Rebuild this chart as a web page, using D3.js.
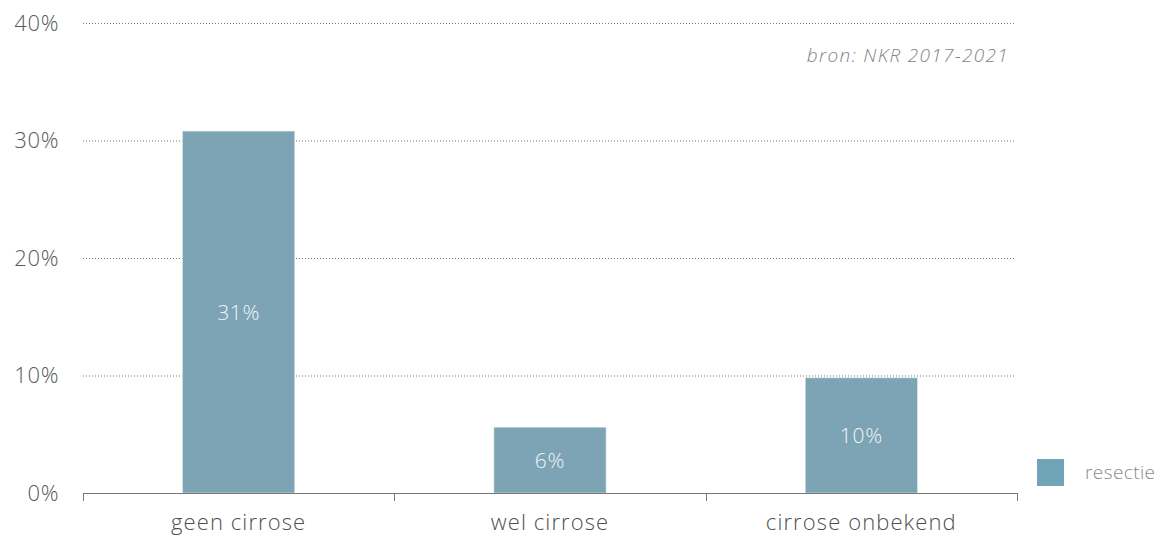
<!DOCTYPE html>
<html>
<head>
<meta charset="utf-8">
<script src="https://cdn.jsdelivr.net/npm/d3@7"></script>
<style>
  html, body { margin: 0; padding: 0; background: #fff; }
  svg { display: block; font-family: "Open Sans", "Noto Sans", sans-serif; }
</style>
</head>
<body>
<svg id="chart" width="1160" height="537"></svg>
<script>
// Percentage of patients with a resection, by cirrhosis status
const categories = ["geen cirrose", "wel cirrose", "cirrose onbekend"];
const resectie = [30.8, 5.6, 9.8];
const barLabels = ["31%", "6%", "10%"];
const yTicks = [0, 10, 20, 30, 40];
const seriesName = "resectie";
const sourceNote = "bron: NKR 2017-2021";

const svg = d3.select("#chart");
const plotLeft = 83, plotRight = 1017, plotTop = 23, plotBottom = 493;

const x = d3.scaleBand().domain(categories).range([plotLeft, plotRight]).paddingInner(0).paddingOuter(0);
const y = d3.scaleLinear().domain([0, 40]).range([plotBottom, plotTop]);
const barW = x.bandwidth() * 0.36;

// dotted gridlines
svg.append("g")
  .selectAll("line")
  .data(yTicks.filter(d => d > 0))
  .join("line")
  .attr("x1", plotLeft).attr("x2", plotRight - 3)
  .attr("y1", d => y(d) + 0.5).attr("y2", d => y(d) + 0.5)
  .attr("stroke", "#777")
  .attr("stroke-width", 1)
  .attr("stroke-dasharray", "1,2");

// y tick labels
svg.append("g")
  .selectAll("text")
  .data(yTicks)
  .join("text")
  .attr("x", 59)
  .attr("y", d => y(d))
  .attr("dy", "0.36em")
  .attr("text-anchor", "end")
  .attr("font-size", 22)
  .attr("font-weight", 300)
  .attr("letter-spacing", 0.6)
  .attr("fill", "#5a5a5a")
  .text(d => d + "%");

// bars
svg.append("g")
  .selectAll("rect")
  .data(categories)
  .join("rect")
  .attr("x", d => x(d) + x.bandwidth() / 2 - barW / 2)
  .attr("width", barW)
  .attr("y", (d, i) => y(resectie[i]))
  .attr("height", (d, i) => y(0) - y(resectie[i]))
  .attr("fill", "#7ca4b4")
  .attr("stroke", "#d6e4ea")
  .attr("stroke-width", 0.6);

// value labels inside the bars
svg.append("g")
  .selectAll("text")
  .data(categories)
  .join("text")
  .attr("x", d => x(d) + x.bandwidth() / 2)
  .attr("y", (d, i) => (y(resectie[i]) + y(0)) / 2)
  .attr("dy", "0.36em")
  .attr("text-anchor", "middle")
  .attr("font-size", 21)
  .attr("font-weight", 300)
  .attr("letter-spacing", 0.7)
  .attr("fill", "#f2f5f7")
  .text((d, i) => barLabels[i]);

// x axis
const xAxis = svg.append("g").attr("transform", `translate(0,${plotBottom})`);
xAxis.append("line")
  .attr("x1", plotLeft).attr("x2", plotRight)
  .attr("y1", 0.5).attr("y2", 0.5)
  .attr("stroke", "#777");
xAxis.selectAll("line.tick")
  .data(d3.range(categories.length + 1))
  .join("line")
  .attr("class", "tick")
  .attr("x1", i => Math.round(plotLeft + i * x.step()) + 0.5)
  .attr("x2", i => Math.round(plotLeft + i * x.step()) + 0.5)
  .attr("y1", 0).attr("y2", 8)
  .attr("stroke", "#777");
xAxis.selectAll("text")
  .data(categories)
  .join("text")
  .attr("x", d => x(d) + x.bandwidth() / 2)
  .attr("y", 37)
  .attr("text-anchor", "middle")
  .attr("font-size", 22)
  .attr("font-weight", 300)
  .attr("letter-spacing", 1.1)
  .attr("fill", "#4f4f4f")
  .text(d => d);

// source note
svg.append("text")
  .attr("x", 1009)
  .attr("y", 62)
  .attr("text-anchor", "end")
  .attr("font-size", 19)
  .attr("font-style", "italic")
  .attr("font-weight", 300)
  .attr("letter-spacing", 1.3)
  .attr("fill", "#858585")
  .text(sourceNote);

// legend
const legend = svg.append("g").attr("transform", "translate(1037,459)");
legend.append("rect").attr("width", 27).attr("height", 27).attr("fill", "#6fa5b6");
legend.append("text")
  .attr("x", 48).attr("y", 13.5).attr("dy", "0.36em")
  .attr("font-size", 19)
  .attr("font-weight", 300)
  .attr("letter-spacing", 0.4)
  .attr("fill", "#8a8a8a")
  .text(seriesName);
</script>
</body>
</html>
